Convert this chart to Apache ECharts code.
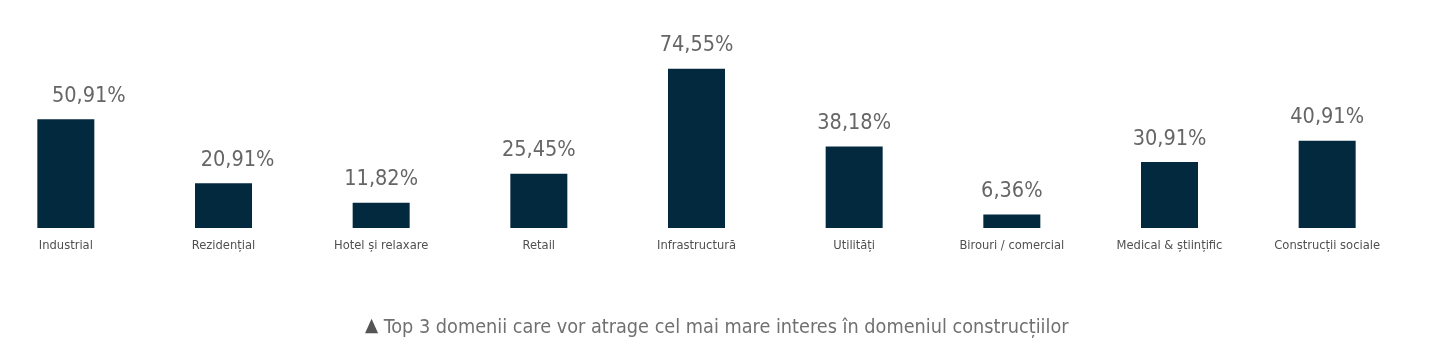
<!DOCTYPE html>
<html>
<head>
<meta charset="utf-8">
<script src="https://cdn.jsdelivr.net/npm/echarts@6/dist/echarts.min.js"></script>
<style>
    html, body { margin: 0; padding: 0; background: #fff; }
    #chart { width: 1443px; height: 352px; }
</style>
</head>
<body>
<div id="chart"></div>
<script>
    "use strict";

    // Chart data
    var categories = ['Industrial', 'Rezidențial', 'Hotel și relaxare', 'Retail', 'Infrastructură',
        'Utilități', 'Birouri / comercial', 'Medical & științific', 'Construcții sociale'];
    var values = [50.91, 20.91, 11.82, 25.45, 74.55, 38.18, 6.36, 30.91, 40.91];
    var caption = 'Top 3 domenii care vor atrage cel mai mare interes în domeniul construcțiilor';

    var FONT = '"Liberation Sans Narrow", "DejaVu Sans Condensed", sans-serif';

    // first two value labels sit a bit to the right in the original
    var labelShift = { 0: 23, 1: 14 };

    var chart = echarts.init(document.getElementById('chart'));

    chart.setOption({
        backgroundColor: '#ffffff',
        animation: false,
        title: {
            text: '{tri|▲} ' + caption,
            left: 360,
            top: 312,
            textStyle: {
                fontFamily: FONT,
                fontSize: 19.7,
                fontWeight: 'normal',
                color: '#707070',
                rich: {
                    tri: { fontSize: 19, color: '#555', padding: [0, 0, 2, 0] }
                }
            }
        },
        grid: {
            left: -13,
            width: 1419,
            top: 14.5,
            bottom: 124,
            outerBoundsMode: 'none'
        },
        xAxis: {
            type: 'category',
            data: categories,
            axisLine: { show: false },
            axisTick: { show: false },
            axisLabel: {
                interval: 0,
                margin: 11,
                fontFamily: FONT,
                fontSize: 12.8,
                color: '#505050'
            }
        },
        yAxis: {
            type: 'value',
            min: 0,
            max: 100,
            show: false,
            splitLine: { show: false }
        },
        series: [{
            type: 'bar',
            barWidth: 57,
            itemStyle: { color: '#03293f' },
            data: values.map(function (v, i) {
                return {
                    value: v,
                    label: { offset: [labelShift[i] || 0, 0] }
                };
            }),
            label: {
                show: true,
                position: 'top',
                distance: 12,
                fontFamily: FONT,
                fontSize: 21.5,
                color: '#666666',
                formatter: function (p) {
                    return p.value.toFixed(2).replace('.', ',') + '%';
                }
            }
        }]
    });
</script>
</body>
</html>
